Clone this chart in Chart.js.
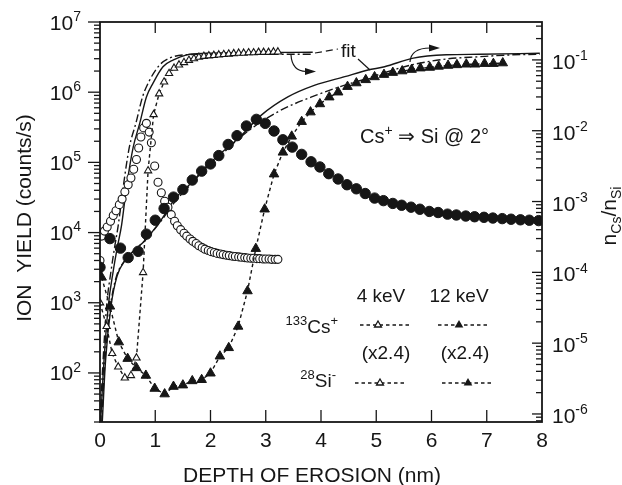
<!DOCTYPE html>
<html>
<head>
<meta charset="utf-8">
<script src="https://cdn.jsdelivr.net/npm/chart.js@4.4.0/dist/chart.umd.min.js"></script>
<style>
  html, body { margin: 0; padding: 0; background: #fff; }
  #wrap { width: 622px; height: 485px; position: relative; }
</style>
</head>
<body>
<div id="wrap"><canvas id="grafico"></canvas></div>
<script>
// axis ticks
const depthTicks = [0, 1, 2, 3, 4, 5, 6, 7, 8];
const yieldDecades = [2, 3, 4, 5, 6, 7];
const ratioDecades = [-6, -5, -4, -3, -2, -1];

// 28Si- at 4 keV (open circles)
const si4X = [0.00, 0.03, 0.08, 0.13, 0.19, 0.24, 0.29, 0.35, 0.40, 0.45, 0.51, 0.56, 0.61, 0.66, 0.70, 0.74, 0.79, 0.84, 0.89, 0.93,
  0.99, 1.05, 1.11, 1.17, 1.23, 1.29, 1.35, 1.40, 1.46, 1.52, 1.57, 1.63, 1.68, 1.74, 1.79, 1.85, 1.90, 1.96, 2.01, 2.07,
  2.12, 2.18, 2.23, 2.29, 2.34, 2.40, 2.45, 2.51, 2.56, 2.62, 2.67, 2.73, 2.78, 2.84, 2.89, 2.95, 3.00, 3.06, 3.11, 3.17, 3.22];
const si4Y = [4000, 8900, 10500, 12000, 14500, 17500, 20500, 25000, 30000, 38000, 48000, 60000, 80000, 110000, 160000, 230000, 310000, 360000, 270000, 190000,
  89000, 52000, 37000, 28000, 23000, 18000, 14500, 12500, 11000, 9800, 8900, 8100, 7500, 7000, 6500, 6100, 5800, 5550, 5350, 5200,
  5050, 4950, 4850, 4750, 4700, 4600, 4550, 4500, 4450, 4400, 4350, 4300, 4300, 4250, 4250, 4200, 4200, 4200, 4150, 4150, 4150];

// 133Cs+ at 4 keV, x2.4 (open triangles)
const cs4X = [0.00, 0.12, 0.22, 0.33, 0.45, 0.56, 0.66, 0.78, 0.87, 0.97, 1.07, 1.16, 1.25, 1.34, 1.43, 1.52, 1.61, 1.70,
  1.79, 1.88, 1.97, 2.06, 2.15, 2.24, 2.33, 2.42, 2.51, 2.60, 2.69, 2.78, 2.87, 2.96, 3.05, 3.14, 3.22];
const cs4Y = [1000, 460, 190, 122, 85, 92, 164, 2700, 76000, 480000, 950000, 1400000, 1850000, 2200000, 2450000, 2650000, 2850000, 3000000,
  3150000, 3250000, 3300000, 3350000, 3400000, 3450000, 3500000, 3550000, 3600000, 3600000, 3650000, 3650000, 3700000, 3700000, 3700000, 3750000, 3750000];

// 28Si- at 12 keV (filled circles)
const si12X = [0.00, 0.18, 0.37, 0.51, 0.69, 0.84, 1.00, 1.16, 1.33, 1.50, 1.67, 1.84, 2.00, 2.15, 2.32, 2.48, 2.65, 2.83, 2.99, 3.15,
  3.31, 3.48, 3.65, 3.82, 3.98, 4.14, 4.31, 4.47, 4.64, 4.80, 4.97, 5.13, 5.30, 5.46, 5.63, 5.79, 5.96, 6.12, 6.29, 6.45,
  6.62, 6.78, 6.95, 7.11, 7.28, 7.44, 7.61, 7.77, 7.94];
const si12Y = [3200, 8200, 6000, 4400, 5400, 9500, 15000, 22000, 32000, 41000, 56000, 75000, 95000, 125000, 180000, 240000, 330000, 410000, 360000, 280000,
  210000, 165000, 130000, 102000, 86000, 69000, 58000, 48000, 42000, 36000, 31000, 28500, 26000, 24500, 23000, 21500, 20000, 19300, 18300, 17800,
  17200, 16800, 16500, 16100, 15800, 15500, 15200, 15000, 14800];

// 133Cs+ at 12 keV, x2.4 (filled triangles)
const cs12X = [0.03, 0.18, 0.34, 0.50, 0.66, 0.83, 0.99, 1.17, 1.33, 1.50, 1.67, 1.84, 2.00, 2.17, 2.33, 2.50, 2.67, 2.82, 2.98, 3.15,
  3.31, 3.47, 3.65, 3.81, 3.98, 4.15, 4.31, 4.48, 4.64, 4.81, 4.97, 5.14, 5.30, 5.47, 5.64, 5.80, 5.97, 6.13, 6.30, 6.46,
  6.63, 6.79, 6.96, 7.12, 7.29];
const cs12Y = [2300, 890, 275, 160, 118, 92, 60, 50, 64, 67, 77, 80, 99, 173, 228, 460, 1470, 5900, 21500, 68000,
  139000, 235000, 380000, 520000, 680000, 850000, 1000000, 1200000, 1350000, 1500000, 1650000, 1780000, 1900000, 2000000, 2100000, 2200000, 2250000, 2330000, 2400000, 2450000,
  2500000, 2500000, 2550000, 2550000, 2600000];

// fits, read on the right axis (nCs/nSi)
const fit4SolidX = [0.01, 0.06, 0.15, 0.24, 0.32, 0.39, 0.48, 0.60, 0.72, 0.84, 0.96, 1.14, 1.33, 1.57, 1.93, 2.71, 3.85];
const fit4SolidY = [7.4e-7, 4.0e-6, 3.35e-5, 1.05e-4, 2.4e-4, 4.6e-4, 1.6e-3, 5.8e-3, 1.28e-2, 3.0e-2, 4.7e-2, 8.0e-2, 0.100, 0.118, 0.124, 0.127, 0.128];
const fit4DashX = [0.00, 0.045, 0.12, 0.20, 0.27, 0.33, 0.42, 0.53, 0.65, 0.77, 0.90, 1.08, 1.27, 1.54, 1.99, 3.85];
const fit4DashY = [7.4e-7, 4.0e-6, 3.35e-5, 1.05e-4, 2.4e-4, 4.6e-4, 1.6e-3, 5.8e-3, 1.28e-2, 3.0e-2, 5.2e-2, 8.5e-2, 0.107, 0.118, 0.120, 0.120];
const fit12SolidX = [0.04, 0.10, 0.20, 0.31, 0.45, 0.63, 0.81, 1.12, 1.36, 1.66, 1.90, 2.17, 2.50, 2.92, 3.40, 3.89, 4.43, 4.85, 5.15, 5.67, 6.27, 6.87, 7.96];
const fit12SolidY = [7.4e-7, 5.6e-6, 3.35e-5, 8.9e-5, 1.46e-4, 2.08e-4, 2.8e-4, 5.7e-4, 1.1e-3, 1.85e-3, 3.0e-3, 4.7e-3, 7.75e-3, 1.66e-2, 3.0e-2, 4.4e-2, 5.8e-2, 7.2e-2, 8.0e-2, 0.106, 0.118, 0.120, 0.124];
const fit12DashX = [0.03, 0.09, 0.19, 0.30, 0.45, 0.63, 0.81, 1.12, 1.36, 1.66, 1.90, 2.17, 2.62, 3.22, 3.83, 4.43, 4.85, 5.15, 5.67, 6.27, 6.87, 7.47, 7.96];
const fit12DashY = [7.4e-7, 5.6e-6, 3.35e-5, 8.9e-5, 1.46e-4, 2.08e-4, 2.8e-4, 5.5e-4, 1.0e-3, 1.8e-3, 2.9e-3, 4.4e-3, 9.1e-3, 1.85e-2, 3.0e-2, 4.4e-2, 5.5e-2, 6.6e-2, 8.6e-2, 0.103, 0.111, 0.118, 0.120];

const ink = "#161616";
const family = '"Liberation Sans", Arial, Helvetica, sans-serif';

function pares(xs, ys) {
  return xs.map((x, i) => ({ x: x, y: ys[i] }));
}

function fontOf(size) {
  return size + "px " + family;
}

// text with superscripts (k = 1) and subscripts (k = -1)
function richText(ctx, parts, x, y, size, align) {
  const small = Math.round(size * 0.68);
  let total = 0;
  const widths = parts.map((p) => {
    ctx.font = fontOf(p.k ? small : size);
    const w = ctx.measureText(p.t).width;
    total += w;
    return w;
  });
  let cx = x;
  if (align === "center") cx = x - total / 2;
  if (align === "right") cx = x - total;
  ctx.textAlign = "left";
  ctx.textBaseline = "alphabetic";
  parts.forEach((p, i) => {
    ctx.font = fontOf(p.k ? small : size);
    let dy = 0;
    if (p.k === 1) dy = -size * 0.42;
    if (p.k === -1) dy = size * 0.24;
    ctx.fillText(p.t, cx, y + dy);
    cx += widths[i];
  });
}

function tri(ctx, x, y, r, filled) {
  ctx.beginPath();
  ctx.moveTo(x, y - r);
  ctx.lineTo(x + r * 0.866, y + r * 0.5);
  ctx.lineTo(x - r * 0.866, y + r * 0.5);
  ctx.closePath();
  if (filled) { ctx.fillStyle = ink; ctx.fill(); }
  else { ctx.fillStyle = "#fff"; ctx.fill(); ctx.stroke(); }
}

function seg(ctx, x1, y1, x2, y2) {
  ctx.beginPath();
  ctx.moveTo(x1, y1);
  ctx.lineTo(x2, y2);
  ctx.stroke();
}

function arrow(ctx, x0, y0, cx, cy, x1, y1) {
  ctx.beginPath();
  ctx.moveTo(x0, y0);
  ctx.quadraticCurveTo(cx, cy, x1, y1);
  ctx.stroke();
  ctx.beginPath();
  ctx.moveTo(x1 + 10, y1);
  ctx.lineTo(x1 - 1, y1 - 3.5);
  ctx.lineTo(x1 - 1, y1 + 3.5);
  ctx.closePath();
  ctx.fill();
}

const ejesPlugin = {
  id: "ejes",
  afterDatasetsDraw(chart) {
    const ctx = chart.ctx;
    const ca = chart.chartArea;
    const xs = chart.scales.x;
    const yl = chart.scales.y;
    const yr = chart.scales.y2;
    ctx.save();
    ctx.strokeStyle = ink;
    ctx.fillStyle = ink;
    ctx.setLineDash([]);

    // frame
    ctx.lineWidth = 1.8;
    ctx.strokeRect(ca.left, ca.top, ca.right - ca.left, ca.bottom - ca.top);

    // ticks
    ctx.lineWidth = 1.3;
    depthTicks.forEach((d) => {
      if (d === depthTicks[0] || d === depthTicks[depthTicks.length - 1]) return;
      const px = xs.getPixelForValue(d);
      seg(ctx, px, ca.bottom, px, ca.bottom - 12);
      seg(ctx, px, ca.top, px, ca.top + 11);
    });
    for (let d = 1; d <= 7; d++) {
      for (let k = 1; k <= 9; k++) {
        const v = k * Math.pow(10, d);
        if (v < yl.min || v > yl.max * 1.0001) continue;
        const py = yl.getPixelForValue(v);
        seg(ctx, ca.left - (k === 1 ? 12 : 6), py, ca.left, py);
      }
    }
    for (let d = -7; d <= 0; d++) {
      for (let k = 1; k <= 9; k++) {
        const v = k * Math.pow(10, d);
        if (v < yr.min || v > yr.max) continue;
        const py = yr.getPixelForValue(v);
        seg(ctx, ca.right - (k === 1 ? 10 : 6), py, ca.right, py);
      }
    }

    // tick labels
    ctx.fillStyle = ink;
    ctx.font = fontOf(21);
    ctx.textAlign = "center";
    ctx.textBaseline = "middle";
    depthTicks.forEach((d) => {
      ctx.fillText(String(d), xs.getPixelForValue(d), ca.bottom + 19);
    });
    yieldDecades.forEach((n) => {
      richText(ctx, [{ t: "10", k: 0 }, { t: String(n), k: 1 }], ca.left - 19, yl.getPixelForValue(Math.pow(10, n)) + 7.5, 21, "right");
    });
    ratioDecades.forEach((n) => {
      richText(ctx, [{ t: "10", k: 0 }, { t: "-" + Math.abs(n), k: 1 }], ca.right + 10, yr.getPixelForValue(Math.pow(10, n)) + 9, 21, "left");
    });

    // axis titles
    ctx.font = fontOf(21);
    ctx.textAlign = "center";
    ctx.textBaseline = "alphabetic";
    ctx.fillText("DEPTH OF EROSION (nm)", 312, 482);
    ctx.save();
    ctx.translate(31, 218);
    ctx.rotate(-Math.PI / 2);
    ctx.fillText("ION  YIELD (counts/s)", 0, 0);
    ctx.restore();
    ctx.save();
    ctx.translate(616, 216);
    ctx.rotate(-Math.PI / 2);
    richText(ctx, [{ t: "n", k: 0 }, { t: "Cs", k: -1 }, { t: "/n", k: 0 }, { t: "Si", k: -1 }], 0, 0, 21, "center");
    ctx.restore();

    // annotations
    richText(ctx, [{ t: "Cs", k: 0 }, { t: "+", k: 1 }, { t: " \u21D2 Si @ 2\u00B0", k: 0 }], 360, 143, 20, "left");

    ctx.font = fontOf(19);
    ctx.textAlign = "left";
    ctx.fillText("fit", 341, 57);
    ctx.lineWidth = 1.2;
    ctx.setLineDash([7, 4]);
    seg(ctx, 315, 53, 338, 49);
    ctx.setLineDash([]);
    seg(ctx, 358, 59, 370, 70);
    arrow(ctx, 291, 55, 292, 71, 306, 71.5);
    arrow(ctx, 410, 62, 411, 48, 430, 48);

    // legend
    ctx.fillStyle = ink;
    ctx.font = fontOf(19);
    ctx.textAlign = "center";
    ctx.fillText("4 keV", 381, 302);
    ctx.fillText("12 keV", 459, 302);
    ctx.fillText("(x2.4)", 386, 359);
    ctx.fillText("(x2.4)", 465, 359);
    richText(ctx, [{ t: "133", k: 1 }, { t: "Cs", k: 0 }, { t: "+", k: 1 }], 338, 333, 19, "right");
    richText(ctx, [{ t: "28", k: 1 }, { t: "Si", k: 0 }, { t: "-", k: 1 }], 336, 387, 19, "right");
    ctx.lineWidth = 1.3;
    const muestras = [[360, 410, 378, 325, false], [438, 490, 459, 325, true], [355, 405, 380, 383, false], [442, 492, 468, 383, true]];
    muestras.forEach((m) => {
      ctx.setLineDash([3.5, 3]);
      seg(ctx, m[0], m[3], m[1], m[3]);
      ctx.setLineDash([]);
      tri(ctx, m[2], m[3], m[4] ? 5 : 4, m[4]);
    });
    ctx.restore();
  }
};

const lineaPuntos = { borderColor: ink, borderWidth: 1.4, borderDash: [3.5, 3], showLine: true };

const datasets = [
  { label: "fit 4 keV", data: pares(fit4SolidX, fit4SolidY), yAxisID: "y2", showLine: true, pointRadius: 0,
    borderColor: ink, borderWidth: 1.4, cubicInterpolationMode: "monotone", order: 9 },
  { label: "fit 4 keV b", data: pares(fit4DashX, fit4DashY), yAxisID: "y2", showLine: true, pointRadius: 0,
    borderColor: ink, borderWidth: 1.4, borderDash: [8, 3, 2, 3], cubicInterpolationMode: "monotone", order: 9 },
  { label: "fit 12 keV", data: pares(fit12SolidX, fit12SolidY), yAxisID: "y2", showLine: true, pointRadius: 0,
    borderColor: ink, borderWidth: 1.4, cubicInterpolationMode: "monotone", order: 9 },
  { label: "fit 12 keV b", data: pares(fit12DashX, fit12DashY), yAxisID: "y2", showLine: true, pointRadius: 0,
    borderColor: ink, borderWidth: 1.4, borderDash: [8, 3, 2, 3], cubicInterpolationMode: "monotone", order: 9 },
  Object.assign({ label: "Cs+ 4 keV", data: pares(cs4X, cs4Y), yAxisID: "y", pointStyle: "triangle", pointRadius: 4.2,
    pointBackgroundColor: "#fff", pointBorderColor: ink, pointBorderWidth: 1.1, order: 4 }, lineaPuntos),
  { label: "Si- 4 keV", data: pares(si4X, si4Y), yAxisID: "y", pointStyle: "circle", pointRadius: 4,
    pointBackgroundColor: "#fff", pointBorderColor: ink, pointBorderWidth: 1.1, showLine: false, order: 5 },
  Object.assign({ label: "Cs+ 12 keV", data: pares(cs12X, cs12Y), yAxisID: "y", pointStyle: "triangle", pointRadius: 5.5,
    pointBackgroundColor: ink, pointBorderColor: ink, pointBorderWidth: 1, order: 2 }, lineaPuntos),
  { label: "Si- 12 keV", data: pares(si12X, si12Y), yAxisID: "y", pointStyle: "circle", pointRadius: 5.2,
    pointBackgroundColor: ink, pointBorderColor: ink, pointBorderWidth: 1, showLine: false, order: 3 }
];

const ctx = document.getElementById("grafico").getContext("2d");
new Chart(ctx, {
  type: "scatter",
  data: { datasets: datasets },
  options: {
    responsive: true,
    maintainAspectRatio: false,
    animation: false,
    devicePixelRatio: 1,
    layout: { padding: { left: 100, right: 80, top: 22, bottom: 63 } },
    plugins: { legend: { display: false }, tooltip: { enabled: false } },
    scales: {
      x: { type: "linear", min: 0, max: 8, display: false },
      y: { type: "logarithmic", min: 20, max: 1e7, display: false },
      y2: { type: "logarithmic", position: "right", min: 7.7e-7, max: 0.343, display: false }
    }
  },
  plugins: [ejesPlugin]
});
</script>
</body>
</html>
